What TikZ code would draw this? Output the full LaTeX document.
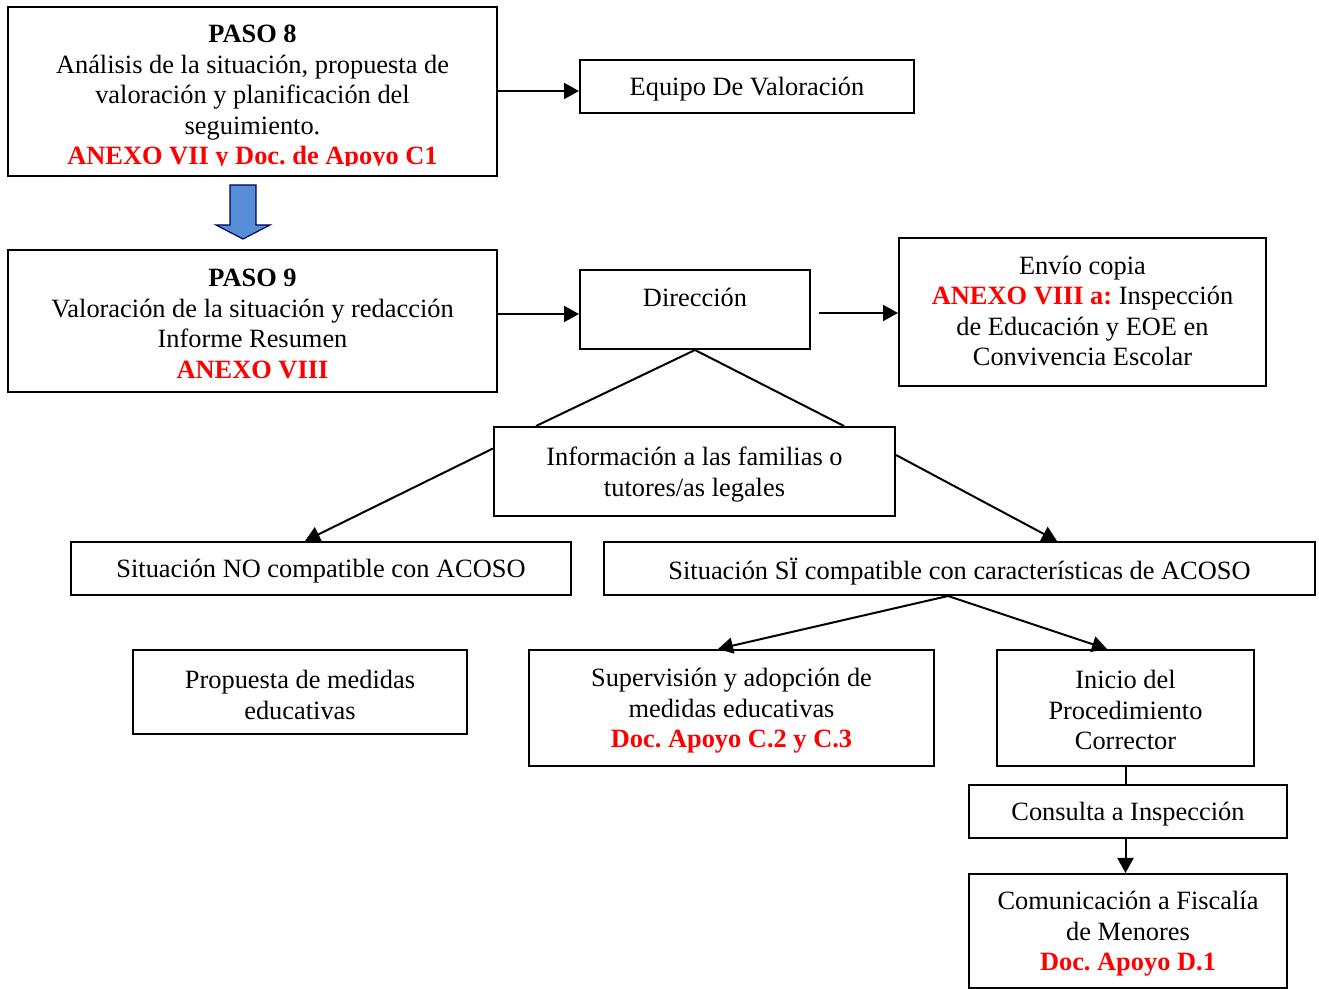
\documentclass[tikz,border=0pt]{standalone}
\usepackage{fontspec}
\setmainfont{Liberation Serif}
\usetikzlibrary{arrows.meta,calc}
\definecolor{arrowblue}{HTML}{558ED5}
\definecolor{redtxt}{HTML}{FF0000}
\newcommand\redbf[1]{\textcolor{redtxt}{\textbf{#1}}}
% box node (name) at (pos) of width, height, with its text shifted down
\newcommand\bx[6][3]{%
  \node[box,minimum width=#4,minimum height=#5] (#2) at (#3) {};
  \node[txt] (#2t) at ($(#2)+(0,#1)$) {#6};}
\frenchspacing
\begin{document}
\begin{tikzpicture}[x=0.5pt,y=-0.5pt,
  txt/.style={inner sep=0pt,align=center,font=\fontsize{13.2}{15.25}\selectfont},
  box/.style={draw,line width=1pt,inner sep=0pt},
  conn/.style={line width=1pt},
  arr/.style={conn,-{Triangle[length=7.5pt,width=8pt]}}]
\useasboundingbox (0,0) rectangle (1319,989);

% PASO 8
\node[box,minimum width=244.5pt,minimum height=84.5pt] (p8) at (252.5,91.5) {};
\begin{scope}
\clip (8,7) rectangle (497,166);
\node[txt] (p8t) at (252.5,98) {\textbf{PASO 8}\\An\'alisis de la situaci\'on, propuesta de\\valoraci\'on y planificaci\'on del\\seguimiento.\\\redbf{ANEXO VII y Doc. de Apoyo C1}};
\end{scope}

\bx{eq}{747,86.5}{167pt}{26.5pt}{Equipo De Valoraci\'on}

% blue arrow
\draw[fill=arrowblue,draw=black!60!blue,line width=0.6pt] (230,185) -- (256,185) -- (256,225) -- (270,225) -- (243,239) -- (216,225) -- (230,225) -- cycle;

\bx{p9}{252.5,321}{244.5pt}{71pt}{\textbf{PASO 9}\\Valoraci\'on de la situaci\'on y redacci\'on\\Informe Resumen\\\redbf{ANEXO VIII}}

\bx[-12]{dir}{695,309.5}{115pt}{39.5pt}{Direcci\'on}

\bx[-1]{env}{1082.5,312}{183.5pt}{74pt}{Env\'io copia\\\redbf{ANEXO VIII a:} Inspecci\'on\\de Educaci\'on y EOE en\\Convivencia Escolar}

\bx{info}{694.5,471.5}{200.5pt}{44.5pt}{Informaci\'on a las familias o\\tutores/as legales}

\bx{sno}{321,568.5}{250pt}{26.5pt}{Situaci\'on NO compatible con ACOSO}
\bx{ssi}{959.5,568.5}{355.5pt}{26.5pt}{Situaci\'on SÏ compatible con caracter\'isticas de ACOSO}

\bx{prop}{300,692}{167pt}{42pt}{Propuesta de medidas\\educativas}
\bx{sup}{731.5,708}{202.5pt}{58pt}{Supervisi\'on y adopci\'on de\\medidas educativas\\\redbf{Doc. Apoyo C.2 y C.3}}
\bx[2]{ini}{1125.5,708}{128.5pt}{58pt}{Inicio del\\Procedimiento\\Corrector}
\bx{con}{1128,811.5}{159pt}{26.5pt}{Consulta a Inspecci\'on}
\bx{com}{1128,931}{159pt}{57pt}{Comunicaci\'on a Fiscal\'ia\\de Menores\\\redbf{Doc. Apoyo D.1}}

% connectors
\draw[arr] (p8.east |- 0,91) -- (eq.west |- 0,91);
\draw[arr] (p9.east |- 0,314) -- (dir.west |- 0,314);
\draw[arr] ($(dir.east)+(8,3.5)$) -- (env.west |- 0,313);
\draw[conn] ($(info.north west)+(43,0)$) -- (dir.south) -- ($(info.north east)+(-52,0)$);
\draw[arr] ($(info.west)+(0,-23)$) -- ($(sno.north)+(-16,0)$);
\draw[arr] ($(info.east)+(0,-16.5)$) -- ($(ssi.north west)+(454,0)$);
\draw[arr] ($(ssi.south west)+(345,0)$) -- ($(sup.north)+(-13.5,0)$);
\draw[arr] ($(ssi.south west)+(345,0)$) -- ($(ini.north)+(-18.5,0)$);
\draw[conn] (ini.south) -- (ini.south |- con.north);
\draw[arr] (ini.south |- con.south) -- (ini.south |- com.north);
\end{tikzpicture}
\end{document}
